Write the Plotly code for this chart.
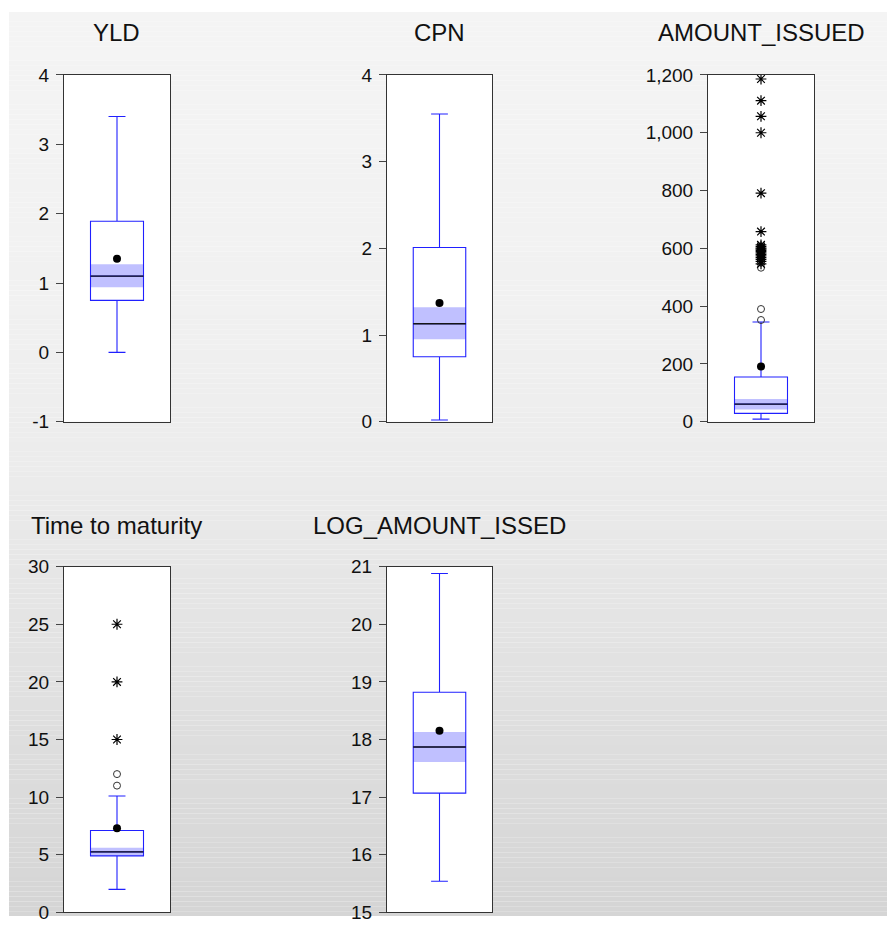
import plotly.graph_objects as go

# ---------------- data ----------------
series = ["YLD", "CPN", "AMOUNT_ISSUED", "Time to maturity", "LOG_AMOUNT_ISSED"]
q1 = [0.75, 0.75, 29, 4.9, 17.07]
median = [1.10, 1.13, 61, 5.25, 17.87]
q3 = [1.89, 2.01, 155, 7.1, 18.82]
lower_whisker = [0.0, 0.02, 9, 2.0, 15.54]
upper_whisker = [3.40, 3.55, 345, 10.1, 20.88]
mean = [1.35, 1.37, 191, 7.3, 18.15]
median_ci_low = [0.94, 0.95, 42, 4.9, 17.61]
median_ci_high = [1.27, 1.32, 79, 5.6, 18.13]
near_outliers = [[], [], [533, 390, 352], [12, 11], []]
far_outliers = [
    [], [],
    [1186, 1111, 1057, 1000, 791, 658, 612, 606, 601, 597, 593, 589, 584,
     579, 574, 568, 562, 555, 546],
    [25, 20, 15],
    [],
]
tick_values = [
    [-1, 0, 1, 2, 3, 4],
    [0, 1, 2, 3, 4],
    [0, 200, 400, 600, 800, 1000, 1200],
    [0, 5, 10, 15, 20, 25, 30],
    [15, 16, 17, 18, 19, 20, 21],
]
tick_labels = [
    ["-1", "0", "1", "2", "3", "4"],
    ["0", "1", "2", "3", "4"],
    ["0", "200", "400", "600", "800", "1,000", "1,200"],
    ["0", "5", "10", "15", "20", "25", "30"],
    ["15", "16", "17", "18", "19", "20", "21"],
]

# ---------------- layout geometry (pixels) ----------------
W, H = 887, 927
# the page is shown slightly offset/squeezed vertically; map target pixel rows
Y_OFF, Y_SCALE = 10.0, 0.978


def fy(px):
    return (px - Y_OFF) / Y_SCALE


col_px = [(64, 170), (387, 492), (708, 814), (64, 170), (387, 492)]
row_px = [(75, 422), (75, 422), (75, 422), (567, 913), (567, 913)]
title_y_px = [33, 33, 33, 526, 526]
FONT = "Liberation Sans, Arial, sans-serif"
BLUE = "#2020ff"
BAND = "#c0c0ff"
BOX_W = 0.5

fig = go.Figure()

for i, name in enumerate(series):
    k = "" if i == 0 else str(i + 1)
    xa, ya = "x" + k, "y" + k
    # median confidence band
    fig.add_trace(go.Bar(
        x=[0], y=[median_ci_high[i] - median_ci_low[i]], base=[median_ci_low[i]],
        width=BOX_W, marker=dict(color=BAND, line=dict(width=0)),
        xaxis=xa, yaxis=ya, hoverinfo="skip"))
    # box + whiskers
    fig.add_trace(go.Box(
        x=[0], q1=[q1[i]], median=[median[i]], q3=[q3[i]],
        lowerfence=[lower_whisker[i]], upperfence=[upper_whisker[i]],
        width=BOX_W, whiskerwidth=0.32, fillcolor="rgba(0,0,0,0)",
        line=dict(color=BLUE, width=1.1), xaxis=xa, yaxis=ya))
    # median line (black)
    fig.add_trace(go.Scatter(
        x=[-BOX_W / 2, BOX_W / 2], y=[median[i], median[i]], mode="lines",
        line=dict(color="#151515", width=1.4), xaxis=xa, yaxis=ya, hoverinfo="skip"))
    # mean
    fig.add_trace(go.Scatter(
        x=[0], y=[mean[i]], mode="markers",
        marker=dict(color="black", size=8, symbol="circle"), xaxis=xa, yaxis=ya))
    # near outliers
    if near_outliers[i]:
        fig.add_trace(go.Scatter(
            x=[0] * len(near_outliers[i]), y=near_outliers[i], mode="markers",
            marker=dict(symbol="circle-open", size=7, color="#333333",
                        line=dict(width=1, color="#333333")),
            xaxis=xa, yaxis=ya))
    # far outliers
    if far_outliers[i]:
        fig.add_trace(go.Scatter(
            x=[0] * len(far_outliers[i]), y=far_outliers[i], mode="markers",
            marker=dict(symbol="asterisk-open", size=9, color="black",
                        line=dict(width=1.2, color="black")),
            xaxis=xa, yaxis=ya))

    x0, x1 = col_px[i]
    y0, y1 = row_px[i]
    fig.layout["xaxis" + k] = dict(
        domain=[x0 / W, x1 / W], range=[-0.5, 0.5], anchor=ya,
        showline=True, mirror=True, linecolor="#333333", linewidth=1,
        showticklabels=False, ticks="", showgrid=False, zeroline=False, fixedrange=True)
    fig.layout["yaxis" + k] = dict(
        domain=[1 - fy(y1) / H, 1 - fy(y0) / H],
        range=[tick_values[i][0], tick_values[i][-1]], anchor=xa,
        tickmode="array", tickvals=tick_values[i], ticktext=tick_labels[i],
        showline=True, mirror=True, linecolor="#333333", linewidth=1,
        ticks="outside", ticklen=7, tickwidth=1, tickcolor="#444444",
        ticklabelstandoff=3,
        tickfont=dict(family=FONT, size=19, color="#111111"),
        showgrid=False, zeroline=False, fixedrange=True)
    fig.add_annotation(
        text=name, xref="paper", yref="paper",
        x=(x0 + x1) / 2 / W, y=1 - fy(title_y_px[i]) / H,
        xanchor="center", yanchor="middle", showarrow=False,
        font=dict(family=FONT, size=24, color="#111111"))

# ---------------- background gradient (style) ----------------
stops = [(12, 244), (300, 241), (460, 236), (700, 224), (927, 212)]


def shade(ypx):
    for (ya_, ca), (yb, cb) in zip(stops[:-1], stops[1:]):
        if ya_ <= ypx <= yb:
            t = (ypx - ya_) / (yb - ya_)
            return round(ca + t * (cb - ca))
    return stops[-1][1]


shapes = []
step = 5
top = max(fy(12), 0)
ypx = top
while ypx < H:
    nxt = min(ypx + step, H)
    c = shade(Y_OFF + Y_SCALE * (ypx + nxt) / 2)
    shapes.append(dict(
        type="rect", xref="paper", yref="paper", layer="below",
        x0=9 / W, x1=1, y0=1 - nxt / H, y1=1 - ypx / H,
        line=dict(width=0), fillcolor=f"rgb({c},{c},{c})"))
    ypx = nxt
for i in range(len(series)):
    x0, x1 = col_px[i]
    y0, y1 = row_px[i]
    shapes.append(dict(
        type="rect", xref="paper", yref="paper", layer="below",
        x0=x0 / W, x1=x1 / W, y0=1 - fy(y1) / H, y1=1 - fy(y0) / H,
        line=dict(width=0), fillcolor="white"))

fig.update_layout(
    width=W, height=H, margin=dict(l=0, r=0, t=0, b=0),
    paper_bgcolor="white", plot_bgcolor="rgba(0,0,0,0)",
    showlegend=False, shapes=shapes, barmode="overlay", boxmode="overlay",
    font=dict(family=FONT),
)

fig.write_html("out.html")
